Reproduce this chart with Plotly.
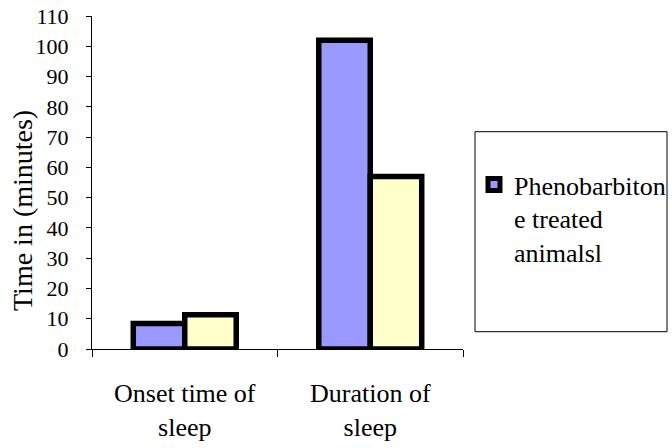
import plotly.graph_objects as go

categories = ["Onset time of sleep", "Duration of sleep"]
series_names = ["Phenobarbiton<br>e treated<br>animalsl", "Second group"]
treated_values = [8.4, 102]
second_values = [11.3, 57]
y_ticks = list(range(0, 111, 10))
y_title = "Time in (minutes)"

FONT = "Liberation Serif, Times New Roman, serif"

W, H = 672, 448
ML, MR, MT, MB = 92, 5, 16, 99
PW = W - ML - MR
PH = H - MT - MB
PLOT_RIGHT = 463


def px(x):
    return (x - ML) / PW


def py(y):
    return (H - MB - y) / PH


fig = go.Figure()
fig.add_trace(go.Bar(x=categories, y=treated_values, name=series_names[0],
                     marker=dict(color="#9999FF", line=dict(color="black", width=5.5)),
                     showlegend=True))
fig.add_trace(go.Bar(x=categories, y=second_values, name=series_names[1],
                     marker=dict(color="#FFFFCC", line=dict(color="black", width=5.5)),
                     showlegend=False))


def wrap(label):
    words = label.split(" ")
    return " ".join(words[:-1]) + "<br>" + words[-1]


annotations = []
for cat in categories:
    annotations.append(dict(x=cat, y=0, xref="x", yref="paper", text=wrap(cat), showarrow=False,
                            xanchor="center", yanchor="middle", yshift=-61,
                            font=dict(family=FONT, size=26, color="black")))
annotations.append(dict(x=px(22), y=py(211), xref="paper", yref="paper",
                        text=y_title, textangle=-90, showarrow=False,
                        xanchor="center", yanchor="middle",
                        font=dict(family=FONT, size=28, color="black")))

fig.update_layout(
    width=W, height=H,
    margin=dict(l=ML, r=MR, t=MT, b=MB, autoexpand=False),
    paper_bgcolor="white", plot_bgcolor="white",
    barmode="group", bargap=0.445, bargroupgap=0,
    font=dict(family=FONT, color="black"),
    annotations=annotations,
    shapes=[dict(type="rect", xref="paper", yref="paper",
                 x0=px(475), x1=px(667), y0=py(331.7), y1=py(131.7),
                 line=dict(color="black", width=1), fillcolor="rgba(0,0,0,0)")],
    legend=dict(x=px(474), y=py(161), xanchor="left", yanchor="top",
                bgcolor="rgba(0,0,0,0)", borderwidth=0, itemwidth=30, valign="top",
                font=dict(family=FONT, size=26, color="black")),
    xaxis=dict(domain=[0, (PLOT_RIGHT - ML) / PW], showticklabels=False, ticks="outside",
               ticklen=7, tickson="boundaries",
               tickcolor="black", showline=True, linecolor="black", linewidth=1,
               showgrid=False, zeroline=False, range=[-0.5, 1.5]),
    yaxis=dict(range=[0, 110], tickvals=y_ticks, ticks="outside", ticklen=5,
               tickcolor="black", showline=True, linecolor="black", linewidth=1,
               showgrid=False, zeroline=False, ticklabelstandoff=13,
               tickfont=dict(family=FONT, size=22, color="black")),
)

fig.write_html("out.html")
